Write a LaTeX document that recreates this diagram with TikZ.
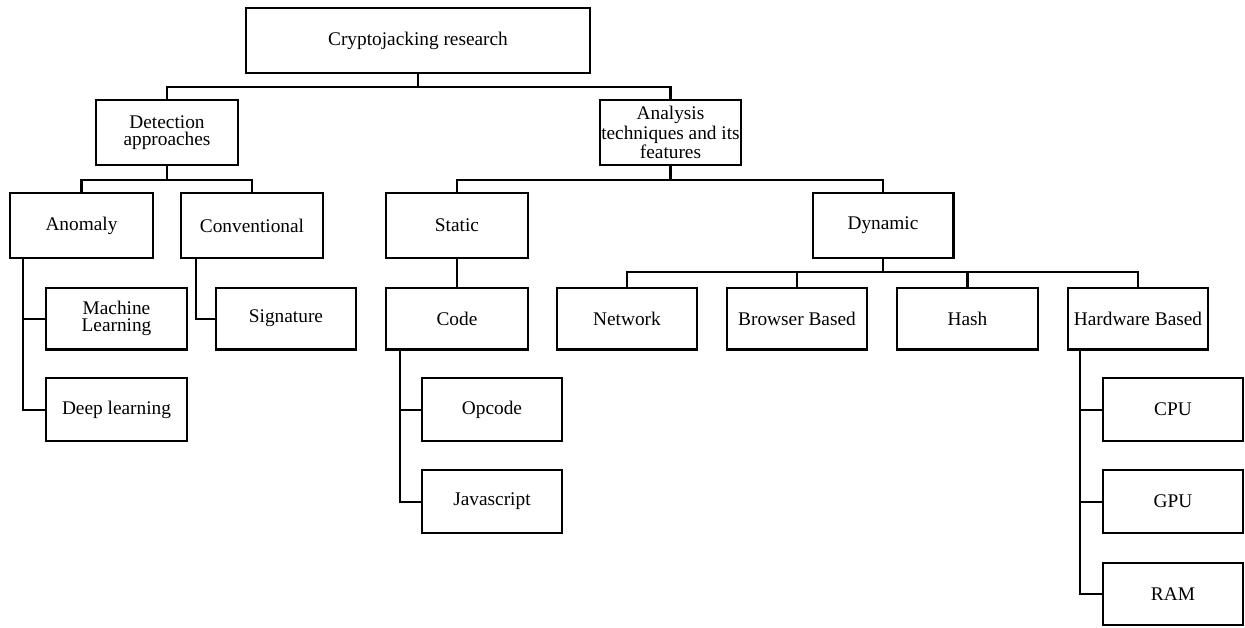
\documentclass[tikz,border=0pt]{standalone}
\usepackage{fontspec}
\setmainfont{Liberation Serif}
\begin{document}
\begin{tikzpicture}[x=0.02cm,y=-0.02cm,
  line width=1.15pt,
  bx/.style={draw=black, line width=1.15pt, fill=white, inner sep=0pt, align=center,
    font=\fontsize{11}{9.9}\selectfont, minimum width=2.82cm, minimum height=1.3cm},
  sm/.style={bx, minimum height=1.24cm},
  conn/.style={draw=black, line width=1.15pt}]
\useasboundingbox (0,0) rectangle (1245,627);
% level 0
\node[bx, minimum width=6.88cm, minimum height=1.3cm] (top) at (418,40.5) {Cryptojacking research};
% level 1
\node[bx, minimum width=2.84cm] (det) at (167,132.5) {Detection\\approaches};
\node[bx] (ana) at (670.5,132.5) {Analysis\\techniques and its\\features};
% level 2
\node[bx, minimum width=2.86cm] (anom) at (81.5,225.5) {Anomaly};
\node[bx, minimum width=2.84cm] (conv) at (252,225.5) {Conventional};
\node[bx, minimum width=2.84cm] (stat) at (457,225.5) {Static};
\node[bx, minimum width=2.82cm] (dyn) at (883,225.5) {Dynamic};
% level 3
\node[sm] (ml) at (116.5,318.5) {Machine\\Learning};
\node[sm, minimum width=2.8cm] (sig) at (286,318.5) {Signature};
\node[sm, minimum width=2.84cm] (code) at (457,318.5) {Code};
\node[sm, minimum width=2.8cm] (net) at (627,318.5) {Network};
\node[sm, minimum width=2.8cm] (brw) at (797,318.5) {Browser Based};
\node[sm] (hash) at (967.5,318.5) {Hash};
\node[sm, minimum width=2.8cm] (hw) at (1138,318.5) {Hardware Based};
% level 4
\node[sm, minimum height=1.26cm] (dl) at (116.5,409.5) {Deep learning};
\node[sm, minimum width=2.8cm, minimum height=1.26cm] (op) at (492,409.5) {Opcode};
\node[sm, minimum width=2.8cm, minimum height=1.26cm] (js) at (492,501.5) {Javascript};
\node[sm, minimum width=2.8cm, minimum height=1.26cm] (cpu) at (1173,409.5) {CPU};
\node[sm, minimum width=2.8cm, minimum height=1.26cm] (gpu) at (1173,501.5) {GPU};
\node[sm, minimum width=2.8cm, minimum height=1.24cm] (ram) at (1173,594) {RAM};
% junctions
\coordinate (j0) at (418,87);
\coordinate (j1) at (167,180);
\coordinate (j2) at (670.5,180);
\coordinate (j3) at (883,272);
\coordinate (ta) at (23,258);
\coordinate (tc) at (196,258);
\coordinate (tcode) at (400,349);
\coordinate (thw) at (1080,349);
% connectors
\draw[conn] (top.south) -- (j0);
\draw[conn] (det.north) |- (j0) -| (ana.north);
\draw[conn] (det.south) -- (j1);
\draw[conn] (anom.north) |- (j1) -| (conv.north);
\draw[conn] (ana.south) -- (j2);
\draw[conn] (stat.north) |- (j2) -| (dyn.north);
\draw[conn] (stat.south) -- (code.north);
\draw[conn] (dyn.south) -- (j3);
\draw[conn] (net.north) |- (j3) -| (hw.north);
\draw[conn] (brw.north) -- (brw.north |- j3);
\draw[conn] (hash.north) -- (hash.north |- j3);
\draw[conn] (ta) |- (ml.west);
\draw[conn] (ta) |- (dl.west);
\draw[conn] (tc) |- (sig.west);
\draw[conn] (tcode) |- (op.west);
\draw[conn] (tcode) |- (js.west);
\draw[conn] (thw) |- (cpu.west);
\draw[conn] (thw) |- (gpu.west);
\draw[conn] (thw) |- (ram.west);
\end{tikzpicture}
\end{document}
